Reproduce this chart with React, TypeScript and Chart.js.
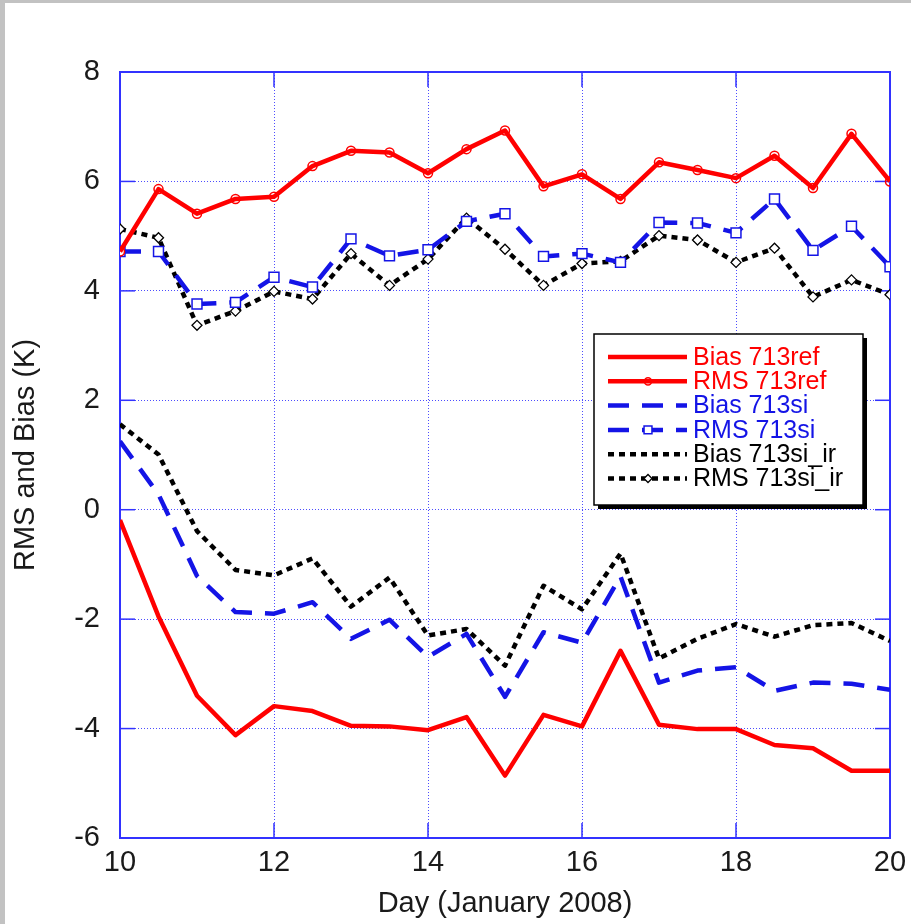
import { useEffect, useRef } from "react";
import { Chart, registerables } from "chart.js";

Chart.register(...registerables);

// ---- data ----
const days = [10, 10.5, 11, 11.5, 12, 12.5, 13, 13.5, 14, 14.5, 15, 15.5, 16, 16.5, 17, 17.5, 18, 18.5, 19, 19.5, 20];

const biasRef = [-0.19, -1.95, -3.40, -4.12, -3.59, -3.68, -3.95, -3.96, -4.03, -3.79, -4.86, -3.75, -3.96, -2.58, -3.93, -4.01, -4.01, -4.30, -4.36, -4.77, -4.77];
const rmsRef = [4.72, 5.86, 5.41, 5.68, 5.72, 6.28, 6.56, 6.53, 6.15, 6.59, 6.93, 5.91, 6.13, 5.68, 6.35, 6.21, 6.06, 6.47, 5.88, 6.87, 6.0];
const biasSi = [1.25, 0.28, -1.21, -1.87, -1.9, -1.69, -2.36, -2.01, -2.69, -2.27, -3.42, -2.24, -2.43, -1.22, -3.16, -2.94, -2.88, -3.31, -3.16, -3.18, -3.29];
const rmsSi = [4.72, 4.72, 3.76, 3.79, 4.25, 4.07, 4.95, 4.64, 4.75, 5.27, 5.41, 4.63, 4.68, 4.52, 5.25, 5.24, 5.06, 5.68, 4.74, 5.18, 4.44];
const biasSiIr = [1.56, 1.01, -0.39, -1.1, -1.2, -0.89, -1.77, -1.24, -2.3, -2.18, -2.85, -1.39, -1.82, -0.8, -2.72, -2.36, -2.09, -2.32, -2.11, -2.07, -2.4];
const rmsSiIr = [5.13, 4.97, 3.37, 3.63, 3.99, 3.85, 4.68, 4.1, 4.58, 5.33, 4.76, 4.1, 4.5, 4.54, 5.01, 4.93, 4.52, 4.78, 3.89, 4.2, 3.93];

const seriesLabels = ["Bias 713ref", "RMS 713ref", "Bias 713si", "RMS 713si", "Bias 713si_ir", "RMS 713si_ir"];
const xTicks = [10, 12, 14, 16, 18, 20];
const yTicks = [-6, -4, -2, 0, 2, 4, 6, 8];
const xTitle = "Day (January 2008)";
const yTitle = "RMS and Bias (K)";

// ---- styles ----
const FONT = "'Liberation Sans', Arial, Helvetica, sans-serif";
const FRAME = "#3232ff";
const GRID = "#4d4dff";
const RED = "#ff0000";
const BLUE = "#1414e6";
const BLACK = "#000000";
const BLUE_DASH = [21, 13];
const DOT = [6, 5];

function pts(vals: number[]) {
  return vals.map((v, i) => ({ x: days[i], y: v }));
}

function drawMarker(ctx: CanvasRenderingContext2D, style: string, x: number, y: number, r: number, stroke: string, fill: string, lw: number) {
  ctx.save();
  ctx.setLineDash([]);
  ctx.lineWidth = lw;
  ctx.strokeStyle = stroke;
  ctx.fillStyle = fill;
  ctx.beginPath();
  if (style === "circle") {
    ctx.arc(x, y, r, 0, Math.PI * 2);
  } else if (style === "rect") {
    const s = Math.SQRT1_2 * r;
    ctx.rect(x - s, y - s, 2 * s, 2 * s);
  } else {
    ctx.moveTo(x - r, y);
    ctx.lineTo(x, y - r);
    ctx.lineTo(x + r, y);
    ctx.lineTo(x, y + r);
    ctx.closePath();
  }
  ctx.fill();
  ctx.stroke();
  ctx.restore();
}

const framePlugin = {
  id: "frameTicks",
  beforeDatasetsDraw(chart: any) {
    const { ctx, chartArea: a, scales } = chart;
    ctx.save();
    ctx.strokeStyle = FRAME;
    ctx.lineWidth = 1.5;
    ctx.setLineDash([]);
    const seg = (x1: number, y1: number, x2: number, y2: number) => {
      ctx.beginPath();
      ctx.moveTo(x1, y1);
      ctx.lineTo(x2, y2);
      ctx.stroke();
    };
    const tl = 15;
    for (const v of xTicks) {
      const px = scales.x.getPixelForValue(v);
      seg(px, a.top, px, a.top + tl);
      seg(px, a.bottom, px, a.bottom - tl);
    }
    for (const v of yTicks) {
      const py = scales.y.getPixelForValue(v);
      seg(a.left, py, a.left + tl, py);
      seg(a.right, py, a.right - tl, py);
    }
    ctx.lineWidth = 2;
    ctx.strokeRect(a.left, a.top, a.right - a.left, a.bottom - a.top);
    ctx.restore();
  },
};

const legendPlugin = {
  id: "boxLegend",
  afterDraw(chart: any) {
    const { ctx } = chart;
    const x0 = 594, y0 = 334, w = 269, h = 171;
    ctx.save();
    ctx.fillStyle = "#000";
    ctx.fillRect(x0 + 4, y0 + 4, w, h);
    ctx.fillStyle = "#fff";
    ctx.fillRect(x0, y0, w, h);
    ctx.strokeStyle = "#000";
    ctx.lineWidth = 1.5;
    ctx.strokeRect(x0, y0, w, h);
    ctx.font = `25px ${FONT}`;
    ctx.textBaseline = "middle";
    ctx.textAlign = "left";
    chart.data.datasets.forEach((ds: any, i: number) => {
      const y = 357 + i * 24.3;
      ctx.save();
      ctx.strokeStyle = ds.borderColor;
      ctx.lineWidth = ds.borderWidth;
      ctx.setLineDash(ds.borderDash || []);
      ctx.lineCap = "butt";
      ctx.beginPath();
      ctx.moveTo(608, y);
      ctx.lineTo(687, y);
      ctx.stroke();
      ctx.restore();
      if (ds.pointRadius > 0) {
        drawMarker(ctx, ds.pointStyle, 648, y, ds.pointRadius * 0.8, ds.pointBorderColor, ds.pointBackgroundColor, ds.pointBorderWidth);
      }
      ctx.fillStyle = ds.borderColor;
      ctx.fillText(ds.label, 693, y + 1);
    });
    ctx.restore();
  },
};

export default function App() {
  const ref = useRef<HTMLCanvasElement | null>(null);

  useEffect(() => {
    if (!ref.current) return;
    const base = {
      borderWidth: 4.5,
      borderJoinStyle: "round" as const,
      borderCapStyle: "butt" as const,
      tension: 0,
      fill: false,
    };
    const chart = new Chart(ref.current, {
      type: "line",
      data: {
        datasets: [
          { ...base, label: seriesLabels[0], data: pts(biasRef), borderColor: RED, pointRadius: 0 },
          {
            ...base, label: seriesLabels[1], data: pts(rmsRef), borderColor: RED,
            pointStyle: "circle", pointRadius: 4.5, pointBorderColor: RED, pointBorderWidth: 1.5,
            pointBackgroundColor: "rgba(255,255,255,0)",
          },
          { ...base, label: seriesLabels[2], data: pts(biasSi), borderColor: BLUE, borderDash: BLUE_DASH, pointRadius: 0 },
          {
            ...base, label: seriesLabels[3], data: pts(rmsSi), borderColor: BLUE, borderDash: BLUE_DASH,
            pointStyle: "rect", pointRadius: 7, pointBorderColor: BLUE, pointBorderWidth: 1.5,
            pointBackgroundColor: "#ffffff",
          },
          { ...base, label: seriesLabels[4], data: pts(biasSiIr), borderColor: BLACK, borderDash: DOT, pointRadius: 0 },
          {
            ...base, label: seriesLabels[5], data: pts(rmsSiIr), borderColor: BLACK, borderDash: DOT,
            pointStyle: "rectRot", pointRadius: 5, pointBorderColor: BLACK, pointBorderWidth: 1.3,
            pointBackgroundColor: "#ffffff",
          },
        ],
      },
      options: {
        animation: false,
        responsive: false,
        devicePixelRatio: 1,
        layout: { padding: { left: 0, right: 21, top: 72, bottom: 0 } },
        plugins: { legend: { display: false }, tooltip: { enabled: false } },
        scales: {
          x: {
            type: "linear",
            min: 10,
            max: 20,
            afterFit: (s: any) => { s.height = 86; s.paddingLeft = 0; s.paddingRight = 0; },
            afterBuildTicks: (s: any) => { s.ticks = xTicks.map((v) => ({ value: v })); },
            ticks: { font: { family: FONT, size: 29 }, color: "#1a1a1a", padding: 8, maxRotation: 0, callback: (v: any) => String(v) },
            grid: { color: GRID, lineWidth: 1, drawTicks: false },
            border: { display: false, dash: [1, 2] },
            title: { display: true, text: xTitle, font: { family: FONT, size: 29 }, color: "#1a1a1a", padding: { top: 0, bottom: 3 } },
          },
          y: {
            type: "linear",
            min: -6,
            max: 8,
            afterFit: (s: any) => { s.width = 120; s.paddingTop = 0; s.paddingBottom = 0; },
            afterBuildTicks: (s: any) => { s.ticks = yTicks.map((v) => ({ value: v })); },
            ticks: { font: { family: FONT, size: 29 }, color: "#1a1a1a", padding: 20, callback: (v: any) => String(v) },
            grid: { color: GRID, lineWidth: 1, drawTicks: false },
            border: { display: false, dash: [1, 2] },
            title: { display: true, text: yTitle, font: { family: FONT, size: 29 }, color: "#1a1a1a", padding: { top: 9, bottom: 0 } },
          },
        },
      },
      plugins: [framePlugin, legendPlugin],
    } as any);
    return () => chart.destroy();
  }, []);

  return (
    <div style={{ position: "fixed", left: 0, top: 0, width: 911, height: 924, background: "#c2c2c2", overflow: "hidden" }}>
      <div style={{ position: "absolute", left: 5, top: 3, right: 0, bottom: 0, background: "#ffffff" }} />
      <canvas ref={ref} width={911} height={924} style={{ position: "absolute", left: 0, top: 0, width: 911, height: 924 }} />
    </div>
  );
}
